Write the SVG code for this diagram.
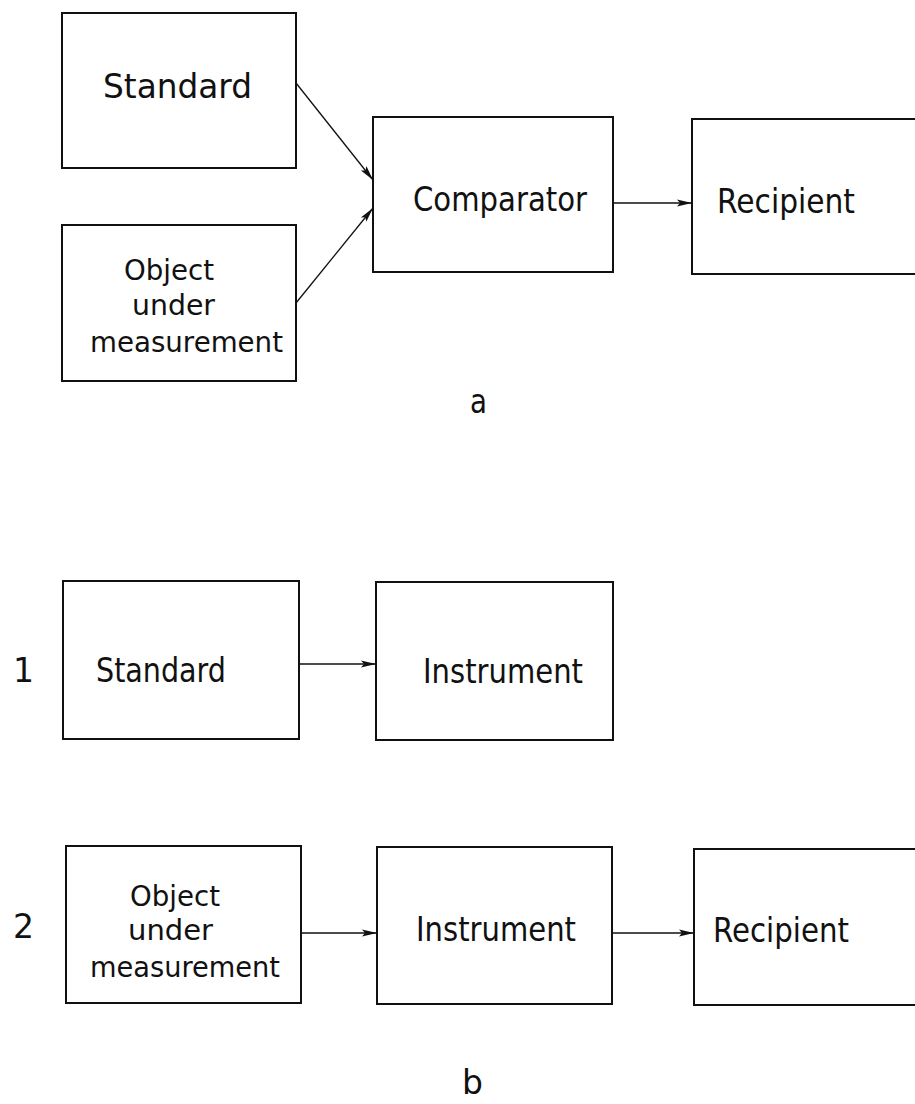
<svg xmlns="http://www.w3.org/2000/svg" width="915" height="1104" viewBox="0 0 915 1104">
<style>
.box{fill:none;stroke:#111;stroke-width:2}
.lbl{font-family:"DejaVu Sans","Liberation Sans",sans-serif;font-size:33px;fill:#111}
.ml{font-size:29px}
.con{stroke:#111;stroke-width:1.3;fill:none;marker-end:url(#ah)}
</style>
<defs>
<marker id="ah" markerUnits="userSpaceOnUse" markerWidth="16" markerHeight="10" refX="15" refY="5" orient="auto">
<path d="M0,1.5 L15,5 L0,8.5 L3,5 z" fill="#111"/>
</marker>
</defs>
<rect width="915" height="1104" fill="#fff"/>

<g id="a-standard">
<rect class="box" x="62" y="13" width="234" height="155"/>
<text class="lbl" x="103" y="98" textLength="149" lengthAdjust="spacingAndGlyphs">Standard</text>
</g>
<g id="a-object">
<rect class="box" x="62" y="225" width="234" height="156"/>
<text class="lbl ml" x="124" y="280" textLength="90" lengthAdjust="spacingAndGlyphs">Object</text>
<text class="lbl ml" x="132" y="315" textLength="83" lengthAdjust="spacingAndGlyphs">under</text>
<text class="lbl ml" x="90" y="352" textLength="193" lengthAdjust="spacingAndGlyphs">measurement</text>
</g>
<g id="a-comparator">
<rect class="box" x="373" y="117" width="240" height="155"/>
<text class="lbl" x="413" y="211" textLength="174" lengthAdjust="spacingAndGlyphs">Comparator</text>
</g>
<g id="a-recipient">
<rect class="box" x="692" y="119" width="240" height="155"/>
<text class="lbl" x="717" y="213" textLength="138" lengthAdjust="spacingAndGlyphs">Recipient</text>
</g>
<text class="lbl" x="470" y="413" textLength="17" lengthAdjust="spacingAndGlyphs">a</text>

<text class="lbl" x="13" y="682">1</text>
<g id="b1-standard">
<rect class="box" x="63" y="581" width="236" height="158"/>
<text class="lbl" x="96" y="682" textLength="130" lengthAdjust="spacingAndGlyphs">Standard</text>
</g>
<g id="b1-instrument">
<rect class="box" x="376" y="582" width="237" height="158"/>
<text class="lbl" x="423" y="683" textLength="160" lengthAdjust="spacingAndGlyphs">Instrument</text>
</g>

<text class="lbl" x="13" y="938">2</text>
<g id="b2-object">
<rect class="box" x="66" y="846" width="235" height="157"/>
<text class="lbl ml" x="130" y="906" textLength="90" lengthAdjust="spacingAndGlyphs">Object</text>
<text class="lbl ml" x="128" y="940" textLength="85" lengthAdjust="spacingAndGlyphs">under</text>
<text class="lbl ml" x="90" y="977" textLength="190" lengthAdjust="spacingAndGlyphs">measurement</text>
</g>
<g id="b2-instrument">
<rect class="box" x="377" y="847" width="235" height="157"/>
<text class="lbl" x="416" y="941" textLength="160" lengthAdjust="spacingAndGlyphs">Instrument</text>
</g>
<g id="b2-recipient">
<rect class="box" x="694" y="849" width="240" height="156"/>
<text class="lbl" x="713" y="942" textLength="136" lengthAdjust="spacingAndGlyphs">Recipient</text>
</g>
<text class="lbl" x="462" y="1094">b</text>

<g id="connectors">
<line class="con" x1="296" y1="83" x2="373" y2="180"/>
<line class="con" x1="296" y1="303" x2="373" y2="208"/>
<line class="con" x1="613" y1="203" x2="692" y2="203"/>
<line class="con" x1="299" y1="664" x2="376" y2="664"/>
<line class="con" x1="301" y1="933" x2="377" y2="933"/>
<line class="con" x1="612" y1="933" x2="694" y2="933"/>
</g>
</svg>
